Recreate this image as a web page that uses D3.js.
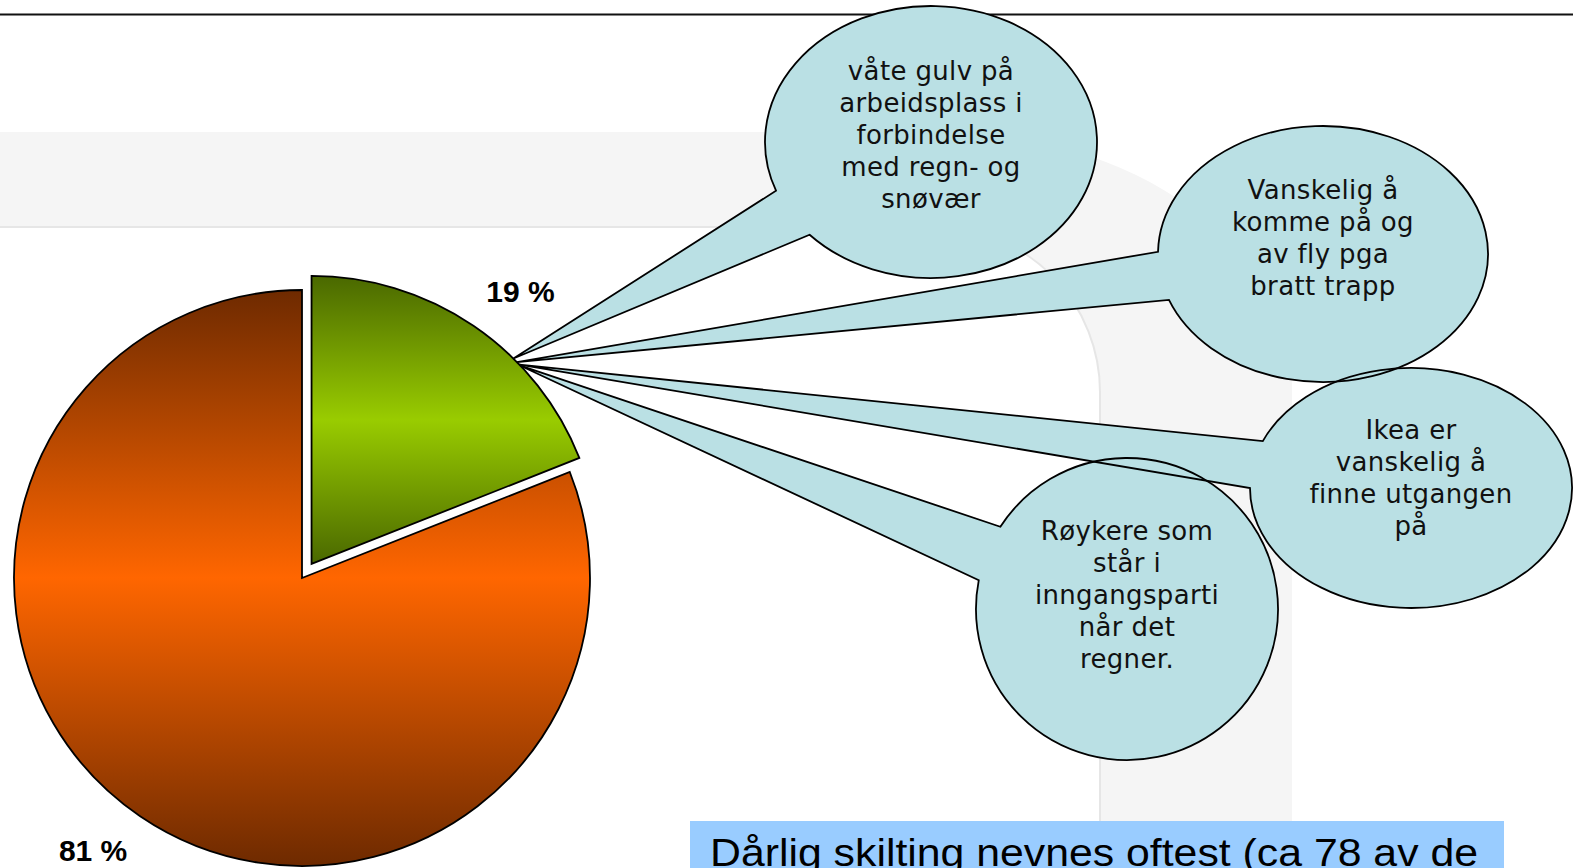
<!DOCTYPE html>
<html lang="no">
<head>
  <meta charset="UTF-8">
  <script src="https://cdn.jsdelivr.net/npm/d3@7"></script>
  <title>Andel med problemer</title>
  <style>
    body { margin: 0; background: #fff; }
    svg { display: block; }
  </style>
</head>
<body>
  <script>
      // size of the slide crop
      var width = 1573, height = 868;

      // pie data: share in percent (first slice is the exploded green one)
      var shares = [19, 81];
      var shareLabels = ["19 %", "81 %"];

      // callout texts, one list of lines per bubble
      var calloutTexts = [
        ["våte gulv på", "arbeidsplass i", "forbindelse", "med regn- og", "snøvær"],
        ["Vanskelig å", "komme på og", "av fly pga", "bratt trapp"],
        ["Ikea er", "vanskelig å", "finne utgangen", "på"],
        ["Røykere som", "står i", "inngangsparti", "når det", "regner."]
      ];

      var note = "Dårlig skilting nevnes oftest (ca 78 av de";

      // layout of the bubbles: centre, radii, gap for the tail (degrees),
      // tip angle on the slice and vertical shift of the text block
      var bubbleLayout = [
        {cx: 931,  cy: 142, rx: 166, ry: 136, from: 159, to: 137, tip: 44.5, shift: -7},
        {cx: 1323, cy: 254, rx: 165, ry: 128, from: 181, to: 159, tip: 45.5, shift: -16},
        {cx: 1411, cy: 488, rx: 161, ry: 120, from: 203, to: 180, tip: 46.2, shift: -10},
        {cx: 1127, cy: 609, rx: 151, ry: 151, from: 213, to: 191, tip: 46.5, shift: -14}
      ];

      var pieCx = 302, pieCy = 578, radius = 288, explode = 17;

      var svg = d3.select("body")
        .append("svg")
        .attr("width", width)
        .attr("height", height)
        .style("background", "#fff");

      // gradients for the slices
      var defs = svg.append("defs");
      var gradColors = [["#4a6800", "#99cc00"], ["#6e2a00", "#ff6600"]];
      gradColors.forEach(function(c, i) {
        var g = defs.append("linearGradient")
          .attr("id", "grad" + i)
          .attr("x1", 0).attr("y1", 0).attr("x2", 0).attr("y2", 1);
        g.append("stop").attr("offset", "0%").attr("stop-color", c[0]);
        g.append("stop").attr("offset", "50%").attr("stop-color", c[1]);
        g.append("stop").attr("offset", "100%").attr("stop-color", c[0]);
      });

      // slide decoration: grey band that bends down into a column
      var band = "M0,132 H940 A352,254 0 0 1 1292,386 V868 H1100 V391 A165,165 0 0 0 935,226 H0 Z";
      svg.append("path").attr("d", band).attr("fill", "#f5f5f5");
      svg.append("path")
        .attr("d", "M0,227 H935 A165,165 0 0 1 1100,392 V868")
        .attr("fill", "none")
        .attr("stroke", "#e6e6e6")
        .attr("stroke-width", 2);

      // title rule
      svg.append("line")
        .attr("x1", 0).attr("x2", width)
        .attr("y1", 14.5).attr("y2", 14.5)
        .attr("stroke", "#111")
        .attr("stroke-width", 2);

      //compute the pie
      var data = d3.pie().sort(null).value(function(d){ return d; })(shares);

      var arc = d3.arc().innerRadius(0).outerRadius(radius);

      function sliceOffset(d, i) {
        if (i !== 0) return [0, 0];
        var a = (d.startAngle + d.endAngle) / 2;
        return [explode * Math.sin(a), -explode * Math.cos(a)];
      }

      var pieG = svg.append("g").attr("transform", "translate(" + pieCx + "," + pieCy + ")");

      pieG.selectAll("path")
        .data(data)
        .enter()
        .append("path")
        .attr("transform", function(d, i) {
          var o = sliceOffset(d, i);
          return "translate(" + o[0] + "," + o[1] + ")";
        })
        .attr("d", arc)
        .attr("fill", function(d, i){ return "url(#grad" + i + ")"; })
        .attr("stroke", "#000")
        .attr("stroke-width", 1.8)
        .attr("stroke-linejoin", "miter");

      // percent labels just outside each slice
      var labelRadius = 343;
      pieG.selectAll("text")
        .data(data)
        .enter()
        .append("text")
        .attr("x", function(d, i) {
          var a = (d.startAngle + d.endAngle) / 2 + 0.058;
          return sliceOffset(d, i)[0] + labelRadius * Math.sin(a);
        })
        .attr("y", function(d, i) {
          var a = (d.startAngle + d.endAngle) / 2 + 0.058;
          return sliceOffset(d, i)[1] - labelRadius * Math.cos(a);
        })
        .attr("dy", "0.35em")
        .attr("text-anchor", "middle")
        .style("font-family", "'Liberation Sans', Arial, sans-serif")
        .style("font-weight", "bold")
        .style("font-size", "30px")
        .text(function(d, i){ return shareLabels[i]; });

      // tip of each tail sits on the green slice's rim
      var green = data[0], gOff = sliceOffset(green, 0);
      function tipPoint(deg) {
        var a = deg * Math.PI / 180;
        return [pieCx + gOff[0] + radius * Math.sin(a), pieCy + gOff[1] - radius * Math.cos(a)];
      }

      function ellPoint(b, deg) {
        var t = deg * Math.PI / 180;
        return [b.cx + b.rx * Math.cos(t), b.cy + b.ry * Math.sin(t)];
      }

      var bubbles = svg.append("g");
      var shapes = bubbleLayout.map(function(b) {
        var p1 = ellPoint(b, b.from), p2 = ellPoint(b, b.to), tp = tipPoint(b.tip);
        return "M" + p1 + " A" + b.rx + "," + b.ry + " 0 1 1 " + p2 + " L" + tp + " Z";
      });

      bubbles.selectAll("path.fill")
        .data(shapes)
        .enter()
        .append("path")
        .attr("class", "fill")
        .attr("d", function(d){ return d; })
        .attr("fill", "#bae0e4");

      bubbles.selectAll("path.edge")
        .data(shapes)
        .enter()
        .append("path")
        .attr("class", "edge")
        .attr("d", function(d){ return d; })
        .attr("fill", "none")
        .attr("stroke", "#000")
        .attr("stroke-width", 1.8)
        .attr("stroke-linejoin", "miter");

      var lineGap = 32;
      calloutTexts.forEach(function(lines, i) {
        var b = bubbleLayout[i];
        var top = b.cy + b.shift - (lines.length - 1) * lineGap / 2;
        var t = bubbles.append("text")
          .attr("text-anchor", "middle")
          .style("font-family", "'DejaVu Sans', Verdana, sans-serif")
          .style("font-size", "26px")
          .style("letter-spacing", "0.35px")
          .attr("fill", "#111");
        lines.forEach(function(l, j) {
          t.append("tspan")
            .attr("x", b.cx)
            .attr("y", top + j * lineGap)
            .attr("dy", "0.36em")
            .text(l);
        });
      });

      // blue note box at the bottom (cut by the slide edge, as in the source)
      svg.append("rect")
        .attr("x", 690).attr("y", 821)
        .attr("width", 814).attr("height", 60)
        .attr("fill", "#99ccff");

      svg.append("text")
        .attr("x", 710).attr("y", 866)
        .attr("textLength", 768)
        .attr("lengthAdjust", "spacingAndGlyphs")
        .style("font-family", "'Liberation Sans Narrow', 'Arial Narrow', sans-serif")
        .style("font-size", "38px")
        .attr("fill", "#000")
        .text(note);
  </script>
</body>
</html>
